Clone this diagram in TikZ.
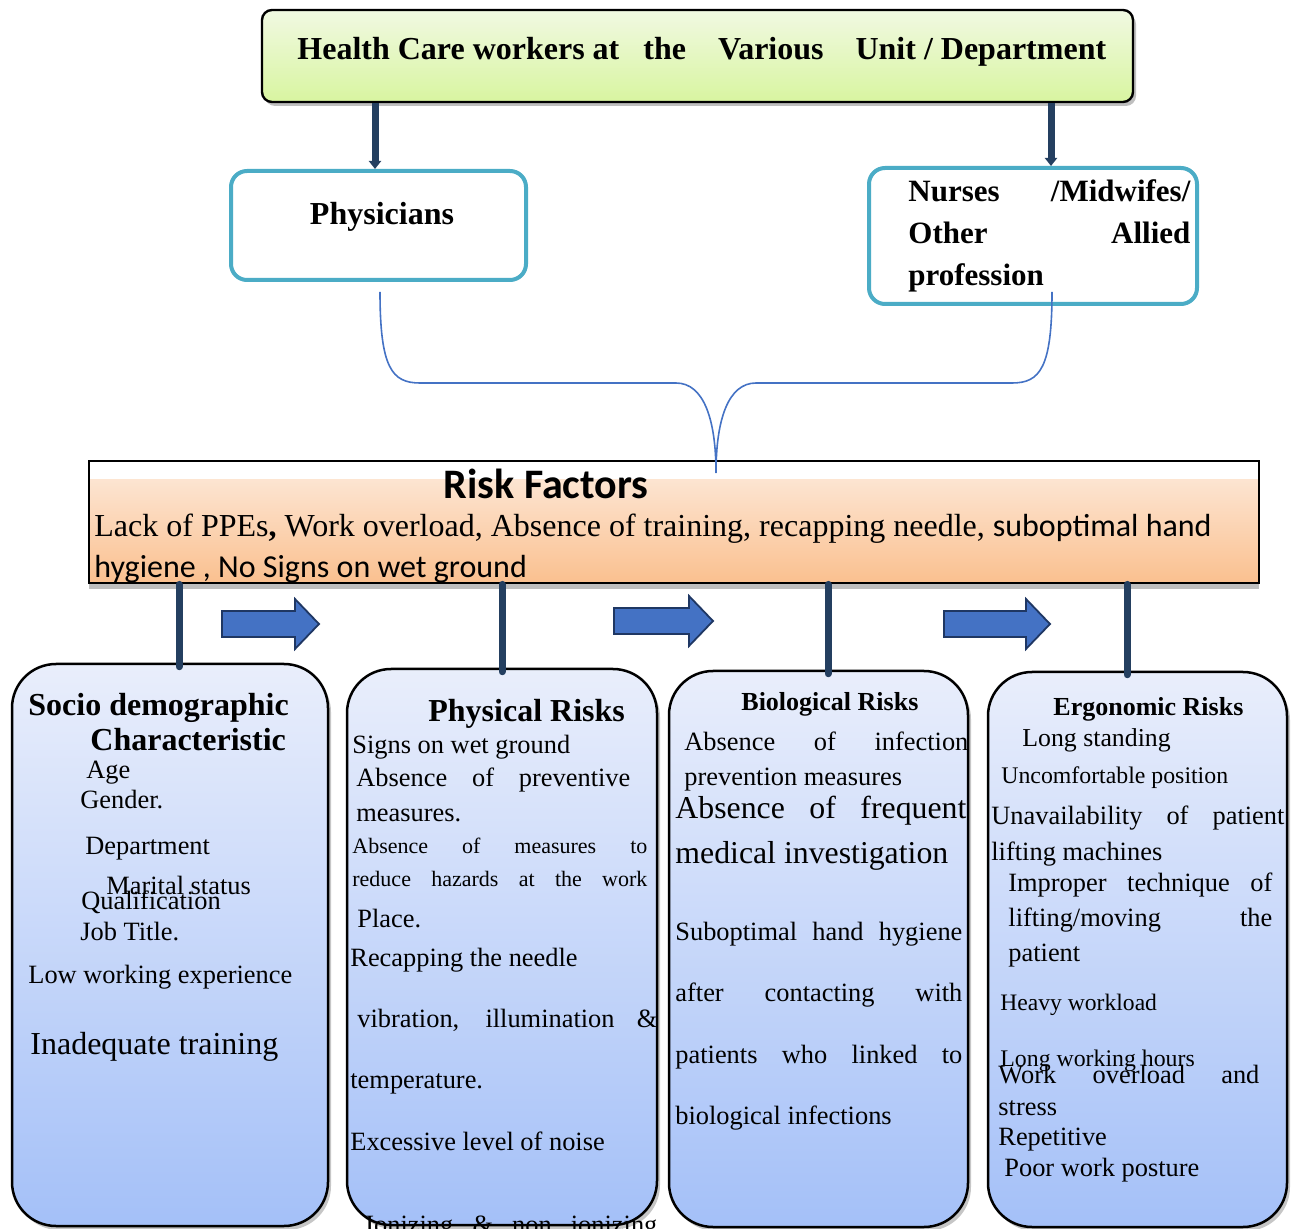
\documentclass[tikz,border=0pt]{standalone}
\usepackage{fontspec}
\setmainfont{Liberation Serif}
\newfontfamily\calibri{Carlito}
\usetikzlibrary{arrows.meta,shadows}
\newlength{\pxu}\setlength{\pxu}{0.5pt}
% justified line of a given width (in px)
\newcommand{\jl}[2]{\makebox[#1\pxu][s]{#2}}
\definecolor{navy}{HTML}{243F60}
\definecolor{cyanline}{HTML}{4BACC6}
\definecolor{braceblue}{HTML}{4472C4}
\definecolor{arrowblue}{HTML}{4472C4}
\definecolor{arrowedge}{HTML}{1F3763}
\definecolor{greenA}{HTML}{F1F9E2}
\definecolor{greenB}{HTML}{D8F5A0}
\definecolor{riskA}{HTML}{FDEBDD}
\definecolor{riskB}{HTML}{FAC08F}
\definecolor{boxA}{HTML}{E9EEFB}
\definecolor{boxB}{HTML}{A4C0F8}
\begin{document}
\begin{tikzpicture}
[x=0.5pt,y=-0.5pt,
  topbox/.style={draw=black,line width=1.2pt,rounded corners=5pt,
    top color=greenA,bottom color=greenB,
    drop shadow={opacity=0.5,shadow xshift=1.5pt,shadow yshift=-2pt}},
  groupbox/.style={draw=cyanline,line width=2pt,rounded corners=8pt,fill=white},
  riskbox/.style={draw=black,line width=1.4pt,fill=white,inner sep=0pt,
    drop shadow={opacity=0.5,shadow xshift=0pt,shadow yshift=-3pt},
    path picture={\shade[top color=riskA,bottom color=riskB]
      ([yshift=-9.5pt]path picture bounding box.north west) rectangle
      (path picture bounding box.south east);}},
  riskcard/.style={draw=black,line width=1.25pt,rounded corners=22pt,
    top color=boxA,bottom color=boxB,
    drop shadow={opacity=0.45,shadow xshift=1.5pt,shadow yshift=-2pt}},
  navyarrow/.style={draw=navy,line width=3.5pt,-{Triangle[width=6pt,length=4pt]}},
  navyline/.style={draw=navy,line width=3.5pt,line cap=round},
  bracket/.style={draw=braceblue,line width=0.8pt},
  blockarrow/.style={draw=arrowedge,line width=0.9pt,fill=arrowblue,line join=miter},
  itemtxt/.style={anchor=base west,inner sep=0pt},
  headtxt/.style={font=\bfseries\fontsize{16}{19}\selectfont,inner sep=0pt}]
\useasboundingbox (0,0) rectangle (1296,1229);
%% top level
\node (hcw) at (697.5,56) [topbox,minimum width=871\pxu,minimum height=92\pxu] {};
\node (hcw-txt) at (297,60) [itemtxt,font=\bfseries\fontsize{16}{19}\selectfont]
  {Health Care workers at\hspace{12pt}the\hspace{16pt}Various\hspace{16pt}Unit / Department};
%% staff groups
\node (physicians) at (378.5,225.5) [groupbox,minimum width=295\pxu,minimum height=109\pxu] {};
\node (physicians-txt) at (382,217) [headtxt] {Physicians};
\node (nurses) at (1033,236) [groupbox,minimum width=328\pxu,minimum height=136\pxu] {};
\foreach \y/\txt [count=\i] in {202/{\jl{282}{Nurses /Midwifes/}},
  244/{\jl{282}{Other Allied}}, 286/{profession}} {
  \node (nurses-\i) at (908,\y) [itemtxt,font=\bfseries\fontsize{15.5}{19}\selectfont] {\txt};
}
\coordinate (a1) at (375,0);
\coordinate (a2) at (1051,0);
\draw[navyarrow] (hcw.south -| a1) -- (physicians.north -| a1);
\draw[navyarrow] (hcw.south -| a2) -- (nurses.north -| a2);
%% risk factors
\node (risk) at (674,522) [riskbox,minimum width=1170\pxu,minimum height=122\pxu] {};
\node (risk-title) at (546,484) [font=\calibri\bfseries\fontsize{21}{24}\selectfont,inner sep=0pt]
  {Risk Factors};
\node (risk-l1) at (94,537) [itemtxt,font=\fontsize{16}{19}\selectfont]
  {Lack of PPEs\textbf{,} Work overload, Absence of training, recapping needle, {\calibri suboptimal hand}};
\node (risk-l2) at (94,578) [itemtxt,font=\calibri\fontsize{16}{19}\selectfont]
  {hygiene , No Signs on wet ground};
%% bracket joining the groups
\coordinate (phys-out) at (380,292);
\coordinate (nurse-out) at (1052,292);
\coordinate (brace-tip) at (716,473);
\draw[bracket] (phys-out) .. controls (380,368) and (392,383) .. (420,383) -- (676,383)
  .. controls (704,383) and (716,420) .. (brace-tip);
\draw[bracket] (nurse-out) .. controls (1052,368) and (1040,383) .. (1012,383) -- (756,383)
  .. controls (728,383) and (716,420) .. (brace-tip);
%% risk cards
\foreach \bname/\cx/\cy/\bw/\bh in {socio/170/945/316/562, physical/502/947/310/556,
  biological/818.5/949/299/556, ergonomic/1137.5/949.5/299/555} {
  \node (\bname) at (\cx,\cy) [riskcard,minimum width=\bw\pxu,minimum height=\bh\pxu] {};
}
\foreach \bname/\lx in {socio/179, physical/502, biological/828, ergonomic/1127} {
  \coordinate (l-\bname) at (\lx,0);
  \draw[navyline] (risk.south -| l-\bname) -- ([yshift=-2pt]\bname.north -| l-\bname);
}
%% block arrows
\foreach \ax/\ay/\al in {222/624/97, 614/621/99, 944/624/106} {
  \draw[blockarrow] (\ax,\ay-13) -- (\ax+\al-24,\ay-13) -- (\ax+\al-24,\ay-25)
    -- (\ax+\al,\ay) -- (\ax+\al-24,\ay+25) -- (\ax+\al-24,\ay+13) -- (\ax,\ay+13) -- cycle;
}
%% card texts
\foreach \x/\y/\fs/\txt [count=\i] in {
  28/715/16/{\textbf{Socio demographic}}, 90/750/16/{\textbf{Characteristic}},
  86/778/13.2/{Age}, 80/808/13.2/{Gender.}, 85/854/13.2/{Department},
  106/894/13.2/{Marital status}, 81/909/13.2/{Qualification}, 80/940/13.2/{Job Title.},
  28/983/13.2/{Low working experience}, 30/1054/16/{Inadequate training}} {
  \node (socio-\i) at (\x,\y) [itemtxt,font=\fontsize{\fs}{\fs}\selectfont] {\txt};
}
\foreach \x/\y/\fs/\txt [count=\i] in {
  428/721/16/{\textbf{Physical Risks}}, 352/754/13.2/{Signs on wet ground},
  356/786/13.2/{\jl{274}{Absence of preventive}}, 356/821/13.2/{measures.},
  352/853/11/{\jl{295}{Absence of measures to}},
  352/886/11/{\jl{295}{reduce hazards at the work}},
  357/927/13.2/{Place.}, 350/966/13.2/{Recapping the needle},
  357/1027/13.2/{\jl{300}{vibration, illumination \&}}, 350/1088/13.2/{temperature.},
  350/1150/13.2/{Excessive level of noise},
  365/1233/13.2/{\jl{292}{Ionizing \& non ionizing}}} {
  \node (physical-\i) at (\x,\y) [itemtxt,font=\fontsize{\fs}{\fs}\selectfont] {\txt};
}
\foreach \x/\y/\fs/\txt [count=\i] in {
  741/711/13/{\textbf{Biological Risks}},
  684/750/13.2/{\jl{284}{Absence of infection}}, 684/785/13.2/{prevention measures},
  675/818/15.9/{\jl{291}{Absence of frequent}}, 675/863/15.9/{medical investigation},
  675/940/13.2/{\jl{287}{Suboptimal hand hygiene}},
  675/1001/13.2/{\jl{287}{after contacting with}},
  675/1063/13.2/{\jl{287}{patients who linked to}},
  675/1124/13.2/{biological infections}} {
  \node (biological-\i) at (\x,\y) [itemtxt,font=\fontsize{\fs}{\fs}\selectfont] {\txt};
}
\foreach \x/\y/\fs/\txt [count=\i] in {
  1053/715/13/{\textbf{Ergonomic Risks}}, 1022/747/12.9/{Long standing},
  1001/783/11.9/{Uncomfortable position},
  991/824/13.2/{\jl{293}{Unavailability of patient}}, 991/860/13.2/{lifting machines},
  1008/891/13.2/{\jl{264}{Improper technique of}},
  1008/926/13.2/{\jl{264}{lifting/moving the}}, 1008/961/13.2/{patient},
  1000/1010/11.8/{Heavy workload}, 1000/1066/11.9/{Long working hours},
  998/1083/13.2/{\jl{261}{Work overload and}}, 998/1115/13.2/{stress},
  998/1145/13.2/{Repetitive}, 1004/1176/13.2/{Poor work posture}} {
  \node (ergonomic-\i) at (\x,\y) [itemtxt,font=\fontsize{\fs}{\fs}\selectfont] {\txt};
}
\end{tikzpicture}
\end{document}
